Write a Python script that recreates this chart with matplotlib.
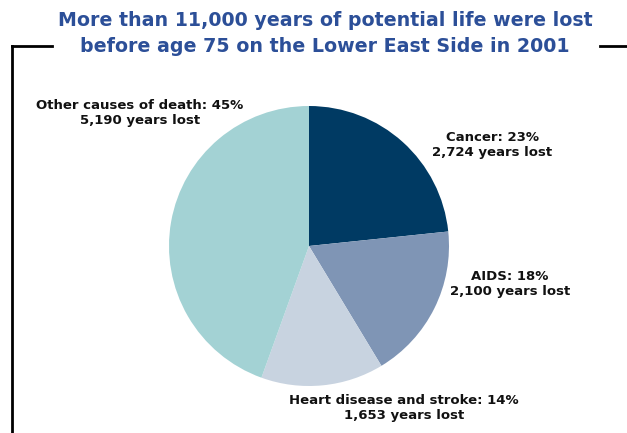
import matplotlib
matplotlib.use('Agg')
import matplotlib.pyplot as plt
from matplotlib.lines import Line2D

W, H = 627, 433

causes = ['Cancer', 'AIDS', 'Heart disease and stroke', 'Other causes of death']
years_lost = [2724, 2100, 1653, 5190]
percents = [23, 18, 14, 45]
colors = ['#003a63', '#7f95b5', '#c8d3e0', '#a3d2d4']

title_lines = ['More than 11,000 years of potential life were lost',
               'before age 75 on the Lower East Side in 2001']


def fx(x):
    return x / W


def fy(y):
    return 1 - y / H


fig = plt.figure(figsize=(W / 100, H / 100), dpi=100)
plt.rcParams['font.family'] = ['DejaVu Sans']

# pie centre (309, 246), radius 140 px
cx, cy, r = 309, 246, 140
ax = fig.add_axes([fx(cx - r), fy(cy + r), 2 * r / W, 2 * r / H])
ax.pie(years_lost, colors=colors, startangle=90, counterclock=False,
       radius=1.0, wedgeprops=dict(linewidth=0))
ax.set_xlim(-1, 1)
ax.set_ylim(-1, 1)
ax.set_aspect('auto')
ax.axis('off')

# title
title_color = '#2c4f98'
fig.text(fx(325), fy(20), title_lines[0], ha='center', va='center',
         fontsize=13.7, fontweight='bold', color=title_color)
fig.text(fx(325), fy(47), title_lines[1], ha='center', va='center',
         fontsize=13.7, fontweight='bold', color=title_color)

# frame
lw = 2.0
fig.add_artist(Line2D([fx(12), fx(52)], [fy(46), fy(46)], color='black', lw=lw))
fig.add_artist(Line2D([fx(12), fx(12)], [fy(46), fy(433)], color='black', lw=lw))
fig.add_artist(Line2D([fx(600), fx(627)], [fy(46), fy(46)], color='black', lw=lw))

# labels
label_pos = [(492, 145), (510, 284), (404, 408), (140, 113)]
for name, yl, pct, (lx, ly) in zip(causes, years_lost, percents, label_pos):
    txt = f'{name}: {pct}%\n{yl:,} years lost'
    fig.text(fx(lx), fy(ly), txt, ha='center', va='center', fontsize=9.5,
             fontweight='bold', color='#111111', linespacing=1.25)

fig.savefig('out.png', dpi=100)
